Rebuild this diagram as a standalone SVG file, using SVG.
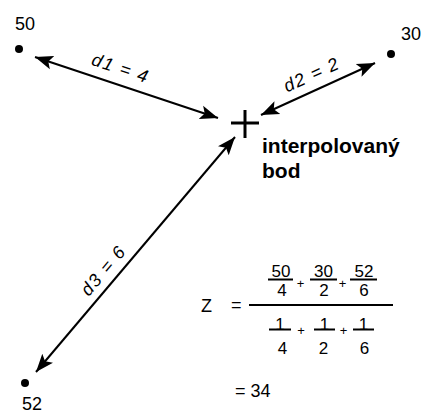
<svg xmlns="http://www.w3.org/2000/svg" width="422" height="415" viewBox="0 0 422 415">
<style>
.lbl{font-family:"Liberation Sans",Arial,sans-serif;font-size:18px;fill:#000}
.dist{font-family:"Liberation Sans",Arial,sans-serif;font-size:18px;font-style:italic;fill:#000}
.bold{font-family:"Liberation Sans",Arial,sans-serif;font-size:21px;font-weight:bold;fill:#000}
.f{font-family:"Liberation Sans",Arial,sans-serif;font-size:17px;fill:#000;text-anchor:middle}
.pl{font-family:"Liberation Sans",Arial,sans-serif;font-size:13px;fill:#000;text-anchor:middle}
.conn{stroke:#000;stroke-width:2;fill:none;marker-start:url(#ah);marker-end:url(#ah)}
.bar{stroke:#000;stroke-width:2}
</style>
<defs>
<marker id="ah" markerUnits="userSpaceOnUse" markerWidth="20" markerHeight="16" refX="18" refY="8" orient="auto-start-reverse">
<path d="M0,1 L18,8 L0,15 L4,8 z" fill="#000"/>
</marker>
</defs>
<rect width="422" height="415" fill="#fff"/>
<g id="connectors">
<line class="conn" x1="35" y1="57" x2="218" y2="118"/>
<line class="conn" x1="261" y1="115" x2="375" y2="63"/>
<line class="conn" x1="235" y1="137" x2="36" y2="372"/>
<text class="dist" text-anchor="middle" textLength="58" transform="translate(120,68) rotate(18.4)" x="0" y="6">d1 = 4</text>
<text class="dist" text-anchor="middle" textLength="58" transform="translate(311,75) rotate(-24.5)" x="0" y="6">d2 = 2</text>
<text class="dist" text-anchor="middle" textLength="58" transform="translate(103,271) rotate(-49.7)" x="0" y="6">d3 = 6</text>
</g>
<g id="point-50">
<circle cx="19" cy="49" r="4" fill="#000"/>
<text class="lbl" x="15" y="30">50</text>
</g>
<g id="point-30">
<circle cx="391" cy="54" r="4" fill="#000"/>
<text class="lbl" x="401" y="40">30</text>
</g>
<g id="point-52">
<circle cx="25" cy="383" r="4" fill="#000"/>
<text class="lbl" x="22" y="410">52</text>
</g>
<g id="interpolated-point">
<line x1="231" y1="123" x2="259" y2="123" stroke="#000" stroke-width="3"/>
<line x1="245" y1="110" x2="245" y2="138" stroke="#000" stroke-width="3"/>
<text class="bold" x="262" y="153">interpolovaný</text>
<text class="bold" x="262" y="178">bod</text>
</g>
<g id="formula">
<text class="lbl" x="201" y="312">Z</text>
<text class="lbl" x="231" y="311">=</text>
<text class="f" x="281" y="277">50</text>
<text class="f" x="323.5" y="277">30</text>
<text class="f" x="364" y="277">52</text>
<line class="bar" x1="268" y1="279.5" x2="293" y2="279.5"/>
<line class="bar" x1="310" y1="279.5" x2="337" y2="279.5"/>
<line class="bar" x1="350" y1="279.5" x2="377" y2="279.5"/>
<text class="f" x="282" y="296">4</text>
<text class="f" x="324" y="296">2</text>
<text class="f" x="364" y="296">6</text>
<text class="pl" x="300.5" y="288">+</text>
<text class="pl" x="342.5" y="288">+</text>
<line class="bar" x1="249" y1="305" x2="393" y2="305"/>
<text class="f" x="280" y="330">1</text>
<text class="f" x="324.5" y="330">1</text>
<text class="f" x="363.5" y="330">1</text>
<line class="bar" x1="269" y1="329.5" x2="291" y2="329.5"/>
<line class="bar" x1="314" y1="329.5" x2="335" y2="329.5"/>
<line class="bar" x1="353" y1="329.5" x2="374" y2="329.5"/>
<text class="pl" x="301" y="335">+</text>
<text class="pl" x="343.5" y="335">+</text>
<text class="f" x="282.5" y="354">4</text>
<text class="f" x="323.5" y="354">2</text>
<text class="f" x="364.5" y="354">6</text>
<text class="lbl" x="235" y="397">= 34</text>
</g>
</svg>
